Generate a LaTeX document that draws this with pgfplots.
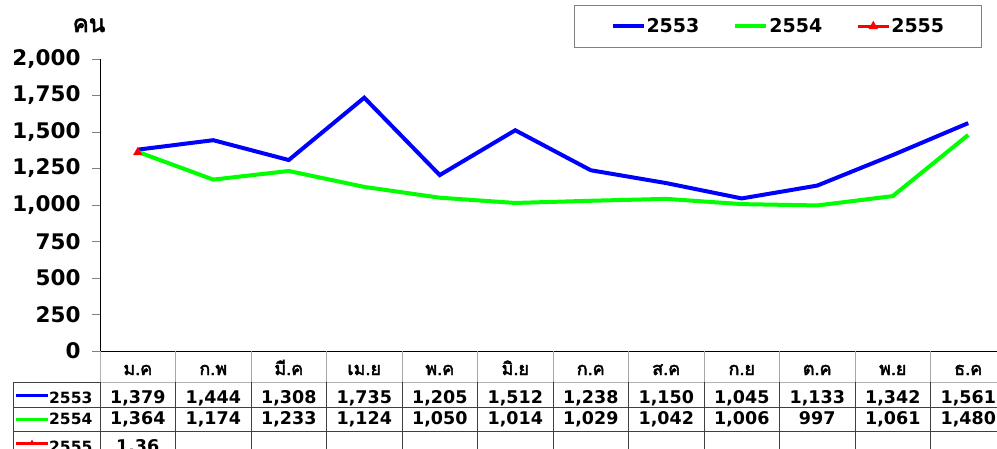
\documentclass[border=0pt]{standalone}
\usepackage{fontspec}
\setmainfont{DejaVu Sans}
\newfontfamily\thai[Script=Thai, FakeBold=2.5]{Loma}
\usepackage{pgfplots}
\pgfplotsset{compat=1.18}
\usepackage{pgfplotstable}

\pgfplotstableread{
x y
0 1379
1 1444
2 1308
3 1735
4 1205
5 1512
6 1238
7 1150
8 1045
9 1133
10 1342
11 1561
}\dataA
\pgfplotstableread{
x y
0 1364
1 1174
2 1233
3 1124
4 1050
5 1014
6 1029
7 1042
8 1006
9 997
10 1061
11 1480
}\dataB

\begin{document}
\begin{tikzpicture}[x=1pt,y=1pt]
\path[use as bounding box, clip] (0,0) rectangle (997,448);
\begin{axis}[
  at={(100pt,97pt)}, anchor=south west,
  scale only axis, width=906pt, height=292pt,
  xmin=-0.5, xmax=11.5, ymin=0, ymax=2000,
  axis x line*=bottom, axis y line*=left,
  axis line style={black, line width=1pt},
  xtick={0,...,11},
  xticklabels={ม.ค,ก.พ,มี.ค,เม.ย,พ.ค,มิ.ย,ก.ค,ส.ค,ก.ย,ต.ค,พ.ย,ธ.ค},
  xtick style={draw=none},
  xticklabel style={font=\thai\fontsize{18}{20}\selectfont, anchor=base, yshift=-16pt},
  ytick={0,250,...,2000},
  ytick style={draw=gray, line width=1pt},
  tick align=outside, major tick length=8pt,
  yticklabel style={font=\bfseries\fontsize{21.5}{24}\selectfont, xshift=-8pt},
  /pgf/number format/.cd, 1000 sep={,}, assume math mode=true, /pgfplots/.cd,
  clip=false,
  legend columns=3,
  legend image code/.code={\draw[mark repeat=2,mark phase=2,#1] plot coordinates {(0pt,0pt) (15.5pt,0pt) (31pt,0pt)};},
  legend style={at={(0.5232,1.1849)}, anchor=north west, draw=gray, line width=1pt,
    inner xsep=36pt, inner ysep=12pt,
    nodes={inner sep=1pt}, cells={anchor=west},
    font=\bfseries\fontsize{19}{22}\selectfont,
    /tikz/every even column/.append style={column sep=33pt}},
]
\addplot[blue, line width=4pt, mark=none] table[x=x,y=y] {\dataA};
\addlegendentry{2553}
\addplot[green, line width=4pt, mark=none] table[x=x,y=y] {\dataB};
\addlegendentry{2554}
\addplot[red, line width=3pt, mark=triangle*, mark size=2.5pt] coordinates {(0,1360)};
\addlegendentry{2555}
\end{axis}
% y-axis unit
\node[font=\thai\fontsize{24}{28}\selectfont, anchor=base] at (89,416) {คน};
% data table grid
\draw[gray!60, line width=1pt] (100,66) -- (1006,66);
\foreach \i in {1,...,11} \draw[gray!70, line width=1pt] ({100+75.5*\i},97) -- ({100+75.5*\i},66);
\draw[gray!60, line width=1pt] (100,97) -- (100,66);
\draw[black!75, line width=1pt] (13,66) -- (100,66);
\draw[black!75, line width=1pt] (13,41) -- (1006,41);
\draw[black!75, line width=1pt] (13,17) -- (1006,17);
\draw[black!75, line width=1pt] (13,66) -- (13,-5);
\foreach \i in {0,...,11} \draw[black!75, line width=1pt] ({100+75.5*\i},66) -- ({100+75.5*\i},-5);
% row keys
\draw[blue, line width=3pt] (16,53) -- (48,53);
\draw[green, line width=3pt] (16,29) -- (48,29);
\draw[red, line width=3pt] (16,5) -- (48,5);
\fill[red] (32,5) ++(90:3.5) -- ++(-120:6) -- ++(0:6) -- cycle;
\begin{scope}[every node/.style={font=\bfseries\fontsize{15.5}{18}\selectfont, anchor=base west, inner sep=0pt}]
\node at (49,45) {2553};
\node at (49,24) {2554};
\node at (49,-4) {2555};
\end{scope}
% row values
\begin{scope}[every node/.style={font=\bfseries\fontsize{17.5}{20}\selectfont, anchor=base, inner sep=0pt}]
\foreach \v [count=\i from 0] in {{1,379},{1,444},{1,308},{1,735},{1,205},{1,512},{1,238},{1,150},{1,045},{1,133},{1,342},{1,561}}
  \node at ({137.75+75.5*\i},45) {\v};
\foreach \v [count=\i from 0] in {{1,364},{1,174},{1,233},{1,124},{1,050},{1,014},{1,029},{1,042},{1,006},{997},{1,061},{1,480}}
  \node at ({137.75+75.5*\i},24) {\v};
\node at (137.75,-4) {1,36};
\end{scope}
\end{tikzpicture}
\end{document}
